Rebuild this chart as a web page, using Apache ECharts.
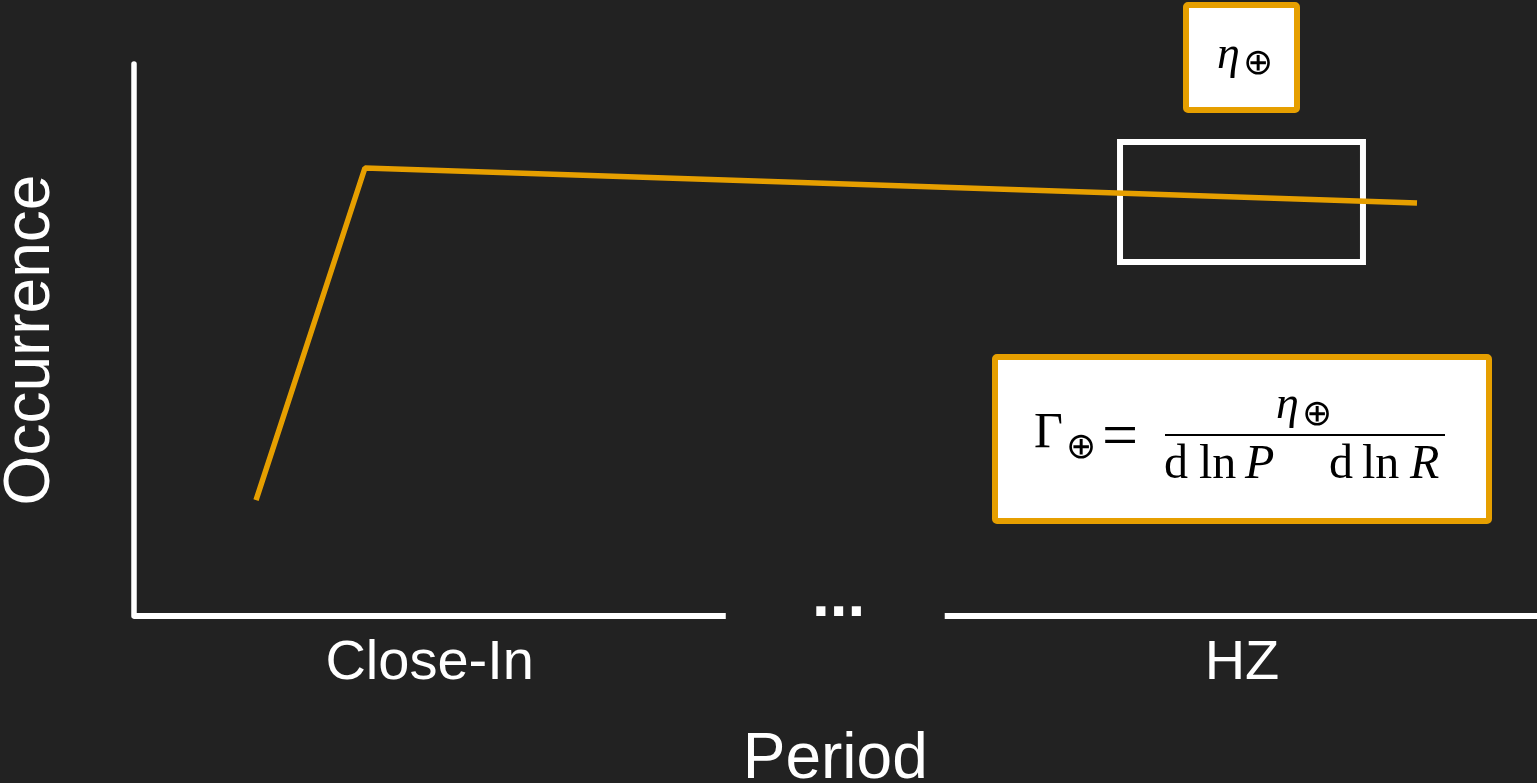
<!DOCTYPE html>
<html>
<head>
<meta charset="utf-8">
<title>Occurrence vs Period</title>
<script src="https://cdn.jsdelivr.net/npm/echarts@6/dist/echarts.min.js"></script>
<style>
  html, body { margin: 0; padding: 0; background: #222222; }
  #chart { width: 1537px; height: 783px; }
</style>
</head>
<body>
<div id="chart"></div>
<script>
// data (x and y both on a 0-100 schematic scale)
const periodX = [8.73, 16.49, 91.45]
const occurrenceY = [21.0, 81.16, 74.82]
const categoryPos = [21.1, 78.98]
const categoryNames = ['Close-In', 'HZ']
// the two pieces of the broken period axis
const axisPieces = [[0, 42.2], [57.8, 100]]
// HZ window highlighted by the white box
const hzBox = { x: [70.29, 87.6], y: [64.13, 85.87] }

const orange = '#E69F00'
const serif = '"Liberation Serif", "DejaVu Serif", serif'
const sym = '"DejaVu Sans", sans-serif'

let myChart = echarts.init(document.getElementById('chart'))

let axisSeries = axisPieces.map(function (p) {
    return {
        type: 'line',
        data: [[p[0], 0], [p[1], 0]],
        symbol: 'none',
        clip: false,
        silent: true,
        lineStyle: { color: '#ffffff', width: 6 },
        z: 1
    }
})

function txt(x, y, text, font, fill) {
    return {
        type: 'text',
        z: 100,
        style: { x: x, y: y, text: text, font: font, fill: fill || '#000', align: 'left', verticalAlign: 'middle' }
    }
}

let option = {
    backgroundColor: '#222222',
    animation: false,
    grid: { left: 133.5, top: 64, right: 0, bottom: 167, outerBoundsMode: 'none', containLabel: false },
    xAxis: {
        type: 'value',
        min: 0,
        max: 100,
        name: 'Period',
        nameLocation: 'middle',
        nameGap: 112,
        nameTextStyle: { color: '#ffffff', fontSize: 64, fontFamily: 'Liberation Sans' },
        axisLine: { show: false },
        axisTick: { show: false },
        splitLine: { show: false },
        axisLabel: {
            customValues: categoryPos,
            color: '#ffffff',
            fontSize: 56,
            fontFamily: 'Liberation Sans',
            margin: 20,
            formatter: function (v) {
                let i = categoryPos.indexOf(v)
                return i >= 0 ? categoryNames[i] : ''
            }
        }
    },
    yAxis: {
        type: 'value',
        min: 0,
        max: 100,
        name: 'Occurrence',
        nameLocation: 'middle',
        nameGap: 70,
        nameTextStyle: { color: '#ffffff', fontSize: 64, fontFamily: 'Liberation Sans' },
        axisLine: { show: true, lineStyle: { color: '#ffffff', width: 5.5 } },
        axisTick: { show: false },
        axisLabel: { show: false },
        splitLine: { show: false }
    },
    series: axisSeries.concat([{
        name: 'occurrence',
        type: 'line',
        data: periodX.map(function (x, i) { return [x, occurrenceY[i]] }),
        symbol: 'none',
        lineStyle: { color: orange, width: 5.5 },
        z: 3,
        markArea: {
            silent: true,
            itemStyle: { color: 'rgba(0,0,0,0)', borderColor: '#ffffff', borderWidth: 6, borderRadius: 2 },
            data: [[{ coord: [hzBox.x[0], hzBox.y[1]] }, { coord: [hzBox.x[1], hzBox.y[0]] }]]
        }
    }]),
    graphic: [
        // "..." gap marker on the period axis
        txt(812, 598, '...', 'bold 64px "Liberation Sans"', '#ffffff'),
        // eta box
        { type: 'rect', z: 90, shape: { x: 1186, y: 5, width: 111, height: 105, r: 2 },
          style: { fill: '#ffffff', stroke: orange, lineWidth: 6 } },
        txt(1217, 56, 'η', 'italic 46px ' + serif),
        txt(1243, 65, '⊕', '36px ' + sym),
        // formula box
        { type: 'rect', z: 90, shape: { x: 995, y: 357, width: 494, height: 164, r: 2 },
          style: { fill: '#ffffff', stroke: orange, lineWidth: 6 } },
        txt(1034, 434, 'Γ', '50px ' + serif),
        txt(1066, 449, '⊕', '36px ' + sym),
        txt(1102, 439, '=', '64px ' + serif),
        { type: 'line', z: 100, shape: { x1: 1165, y1: 435, x2: 1445, y2: 435 },
          style: { stroke: '#000', lineWidth: 2 } },
        txt(1276, 406, 'η', 'italic 46px ' + serif),
        txt(1302, 416, '⊕', '36px ' + sym),
        txt(1164, 465, 'd', '48px ' + serif),
        txt(1199, 465, 'ln', '48px ' + serif),
        txt(1245, 465, 'P', 'italic 48px ' + serif),
        txt(1329, 465, 'd', '48px ' + serif),
        txt(1362, 465, 'ln', '48px ' + serif),
        txt(1410, 465, 'R', 'italic 48px ' + serif)
    ]
}

myChart.setOption(option)
window.addEventListener('resize', function () {
    myChart.resize()
})
</script>
</body>
</html>
